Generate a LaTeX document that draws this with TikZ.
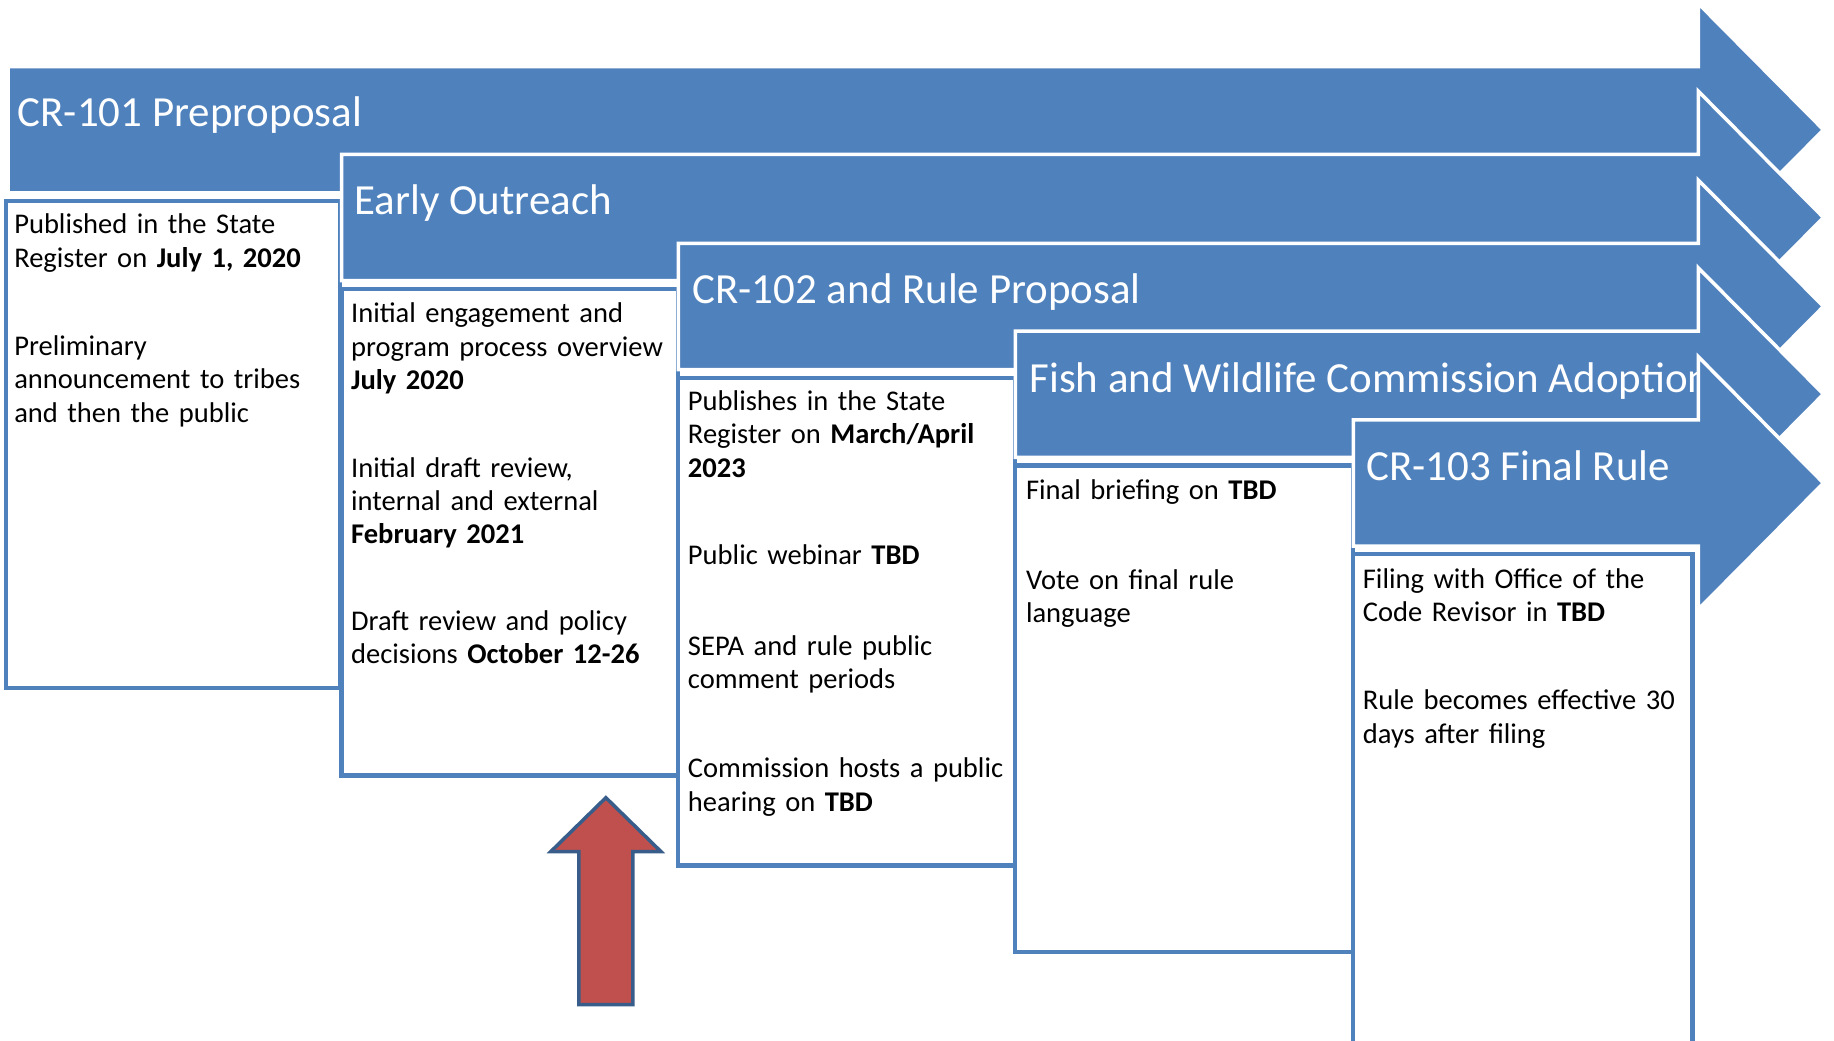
\documentclass[tikz,border=0pt]{standalone}
\usepackage{fontspec}
\setmainfont{Carlito}
\definecolor{abl}{HTML}{4F81BD}
\definecolor{ared}{HTML}{C0504D}
\definecolor{aout}{HTML}{385D8A}
\tikzset{
  phase/.style={fill=abl, draw=white, line width=3pt, line join=miter},
  stagebox/.style={fill=white, draw=abl, line width=3.5pt},
  ttl/.style={text=white, font=\fontsize{36.7}{43}\selectfont, anchor=base west, inner sep=0pt},
  bodytxt/.style={font=\fontsize{24.4}{28.5}\selectfont, anchor=base west, inner sep=0pt, text width=282pt, align=left},
  upar/.style={fill=ared, draw=aout, line width=3pt, line join=miter}
}
\newcommand\phasearrow[2]{%
  \path[phase] (#1,#2-54) -- (1452,#2-54) -- (1452,#2-108) -- (1559,#2) -- (1452,#2+108) -- (1452,#2+54) -- (#1,#2+54) -- cycle;}
\begin{document}
\begin{tikzpicture}[x=1pt,y=-1pt]
\useasboundingbox (0,0) rectangle (1568,890);
% arrow 1
\phasearrow{7}{111}
\node[ttl] (t1) at (15,108.5) {CR-101 Preproposal};
\path[stagebox] (5,172) rectangle (291,588);
\node[bodytxt] (p11) at (12,200) {Published in the State\\Register on \textbf{July 1, 2020}};
\node[bodytxt] (p12) at (12,304) {Preliminary\\announcement to tribes\\and then the public};
% arrow 2
\phasearrow{292}{186}
\node[ttl] (t2) at (303,183.5) {Early Outreach};
\path[stagebox] (292,247) rectangle (580,663);
\node[bodytxt] (p21) at (300,276) {Initial engagement and\\program process overview\\\textbf{July 2020}};
\node[bodytxt] (p22) at (300,408) {Initial draft review,\\internal and external\\\textbf{February 2021}};
\node[bodytxt] (p23) at (300,539) {Draft review and policy\\decisions \textbf{October 12-26}};
% arrow 3
\phasearrow{580}{262}
\node[ttl] (t3) at (592,259.5) {CR-102 and Rule Proposal};
\path[stagebox] (580,323) rectangle (868,740);
\node[bodytxt] (p31) at (588,351) {Publishes in the State\\Register on \textbf{March/April}\\\textbf{2023}};
\node[bodytxt] (p32) at (588,483) {Public webinar \textbf{TBD}};
\node[bodytxt] (p33) at (588,560) {SEPA and rule public\\comment periods};
\node[bodytxt] (p34) at (588,665) {Commission hosts a public\\hearing on \textbf{TBD}};
% arrow 4
\phasearrow{868}{337}
\node[ttl] (t4) at (880,335.5) {Fish and Wildlife Commission Adoption};
\path[stagebox] (868,398) rectangle (1157,814);
\node[bodytxt] (p41) at (877,427) {Final briefing on \textbf{TBD}};
\node[bodytxt] (p42) at (877,504) {Vote on final rule\\language};
% arrow 5
\phasearrow{1157}{413}
\node[ttl] (t5) at (1168,410.5) {CR-103 Final Rule};
\path[stagebox] (1157,474) rectangle (1447,896);
\node[bodytxt] (p51) at (1165,503) {Filing with Office of the\\Code Revisor in \textbf{TBD}};
\node[bodytxt] (p52) at (1165,607) {Rule becomes effective 30\\days after filing};
% red up arrow
\path[upar] (518,682) -- (565,728) -- (541,728) -- (541,859) -- (495,859) -- (495,728) -- (471,728) -- cycle;
\end{tikzpicture}
\end{document}
